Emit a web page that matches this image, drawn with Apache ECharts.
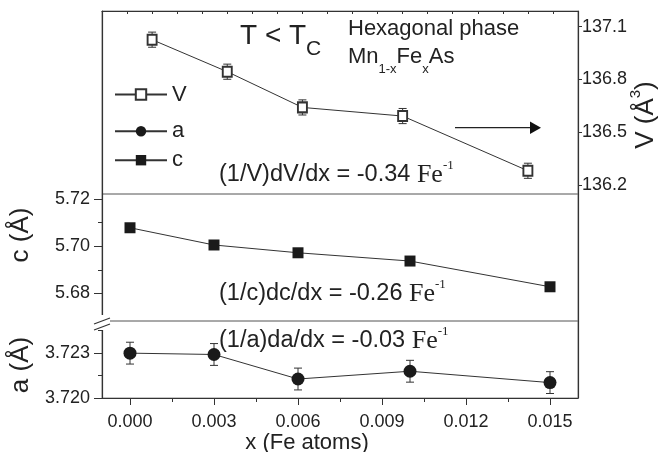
<!DOCTYPE html>
<html>
<head>
<meta charset="utf-8">
<script src="https://cdn.jsdelivr.net/npm/echarts@6/dist/echarts.min.js"></script>
<style>
  html, body { margin: 0; padding: 0; background: #fff; }
  #chart { width: 658px; height: 452px; }
</style>
</head>
<body>
<div id="chart"></div>
<script>
// Fe content of the Mn(1-x)Fe(x)As samples
const xFe = [0, 0.003, 0.006, 0.010, 0.015];

// Unit-cell volume V (Å^3) with its uncertainty
const cellVolume = [137.026, 136.844, 136.641, 136.592, 136.281];
const cellVolumeErr = [0.043, 0.043, 0.043, 0.043, 0.043];

// Lattice parameters (Å)
const latticeC = [5.7078, 5.7005, 5.6972, 5.6937, 5.6828];
const latticeA = [3.72300, 3.72291, 3.72127, 3.72179, 3.72103];
const latticeAErr = [0.00073, 0.00073, 0.00073, 0.00073, 0.00073];

// Tick positions
const xTicks = [0, 0.003, 0.006, 0.009, 0.012, 0.015];
const xMinorTicks = [0.0015, 0.0045, 0.0075, 0.0105, 0.0135];
const vTicks = [136.2, 136.5, 136.8, 137.1];
const cTicks = [5.68, 5.70, 5.72];
const cMinorTicks = [5.69, 5.71];
const aTicks = [3.720, 3.723];
const aMinorTicks = [3.7215, 3.7245];

const DARK = '#333';
const TEXT = '#222';
const SANS = '"Liberation Sans", Arial, Helvetica, sans-serif';
const SERIF = '"Liberation Serif", "Times New Roman", serif';

const chart = echarts.init(document.getElementById('chart'), null, { renderer: 'canvas' });

function errorBar(params, api) {
  const x = api.value(0);
  const lo = api.coord([x, api.value(1)]);
  const hi = api.coord([x, api.value(2)]);
  const w = 4;
  const style = { stroke: DARK, lineWidth: 1 };
  return {
    type: 'group',
    children: [
      { type: 'line', shape: { x1: lo[0], y1: lo[1], x2: hi[0], y2: hi[1] }, style },
      { type: 'line', shape: { x1: lo[0] - w, y1: lo[1], x2: lo[0] + w, y2: lo[1] }, style },
      { type: 'line', shape: { x1: hi[0] - w, y1: hi[1], x2: hi[0] + w, y2: hi[1] }, style }
    ]
  };
}

const lineOnly = (gridIndex, position, min, max) => ({
  gridIndex, type: 'value', position, min, max,
  axisLine: { show: true, onZero: false, lineStyle: { color: DARK, width: 1.2 } },
  axisTick: { show: false }, axisLabel: { show: false }, splitLine: { show: false }
});

const tickAxis = (gridIndex, position, min, max, ticks, len, labelFmt, margin) => ({
  gridIndex, type: 'value', position, min, max,
  axisLine: { show: labelFmt != null, onZero: false, lineStyle: { color: DARK, width: 1.2 } },
  axisTick: { show: true, customValues: ticks, length: len, lineStyle: { color: DARK, width: 1 } },
  axisLabel: labelFmt == null ? { show: false } : {
    show: true, customValues: ticks, formatter: labelFmt, margin,
    fontSize: 18, color: TEXT, fontFamily: SANS
  },
  splitLine: { show: false }
});

const V_MIN = 136.149, V_MAX = 137.189;
const C_MIN = 5.6683, C_MAX = 5.7221;
const A_MIN = 3.720, A_MAX = 3.72515;

const legendBase = {
  left: 114, itemWidth: 52, itemHeight: 13, padding: 0, selectedMode: false,
  textStyle: { fontSize: 22, color: TEXT, fontFamily: SANS }
};

const option = {
  animation: false,
  backgroundColor: '#fff',
  grid: [
    { left: 102, right: 80, top: 11, height: 183, show: true, borderColor: '#8c8c8c', borderWidth: 1 },
    { left: 102, right: 80, top: 194, height: 127, show: true, borderColor: '#8c8c8c', borderWidth: 1 },
    { left: 102, right: 80, top: 321, height: 77, show: true, borderColor: '#8c8c8c', borderWidth: 1 }
  ],
  legend: [
    Object.assign({ data: ['V'], top: 90 - 6.5 }, legendBase),
    Object.assign({ data: ['a'], top: 126.7 - 6.5 }, legendBase),
    Object.assign({ data: ['c'], top: 155.7 - 6.5 }, legendBase)
  ],
  xAxis: [
    {
      gridIndex: 0, type: 'value', position: 'top', min: -0.002, max: 0.017, interval: 0.001,
      axisLine: { show: true, onZero: false, lineStyle: { color: DARK, width: 1.2 } },
      axisTick: { show: true, inside: true, length: 3, lineStyle: { color: DARK } },
      axisLabel: { show: false }, splitLine: { show: false }
    },
    { gridIndex: 1, type: 'value', min: -0.001, max: 0.016, show: false },
    tickAxis(2, 'bottom', -0.001, 0.016, xTicks, 7, v => v.toFixed(3), 15),
    tickAxis(2, 'bottom', -0.001, 0.016, xMinorTicks, 4, null, 0)
  ],
  yAxis: [
    tickAxis(0, 'right', V_MIN, V_MAX, vTicks, 4, v => v.toFixed(1), 4),
    lineOnly(0, 'left', V_MIN, V_MAX),
    tickAxis(1, 'left', C_MIN, C_MAX, cTicks, 8, v => v.toFixed(2), 12),
    tickAxis(1, 'left', C_MIN, C_MAX, cMinorTicks, 4, null, 0),
    lineOnly(1, 'right', C_MIN, C_MAX),
    tickAxis(2, 'left', A_MIN, A_MAX, aTicks, 8, v => v.toFixed(3), 12),
    tickAxis(2, 'left', A_MIN, A_MAX, aMinorTicks, 4, null, 0),
    lineOnly(2, 'right', A_MIN, A_MAX)
  ],
  series: [
    {
      name: 'V err', type: 'custom', xAxisIndex: 0, yAxisIndex: 0, z: 2,
      renderItem: errorBar, encode: { x: 0, y: [1, 2] },
      data: xFe.map((x, i) => [x, cellVolume[i] - cellVolumeErr[i], cellVolume[i] + cellVolumeErr[i]])
    },
    {
      name: 'V', type: 'line', xAxisIndex: 0, yAxisIndex: 0, z: 3,
      data: xFe.map((x, i) => [x, cellVolume[i]]),
      symbol: 'emptyRect', symbolSize: [9, 10],
      lineStyle: { color: DARK, width: 1 },
      itemStyle: { color: DARK, borderColor: DARK, borderWidth: 1.2 }
    },
    {
      name: 'c', type: 'line', xAxisIndex: 1, yAxisIndex: 2, z: 3,
      data: xFe.map((x, i) => [x, latticeC[i]]),
      symbol: 'rect', symbolSize: 11,
      lineStyle: { color: DARK, width: 1 },
      itemStyle: { color: '#1a1a1a' }
    },
    {
      name: 'a err', type: 'custom', xAxisIndex: 2, yAxisIndex: 5, z: 2,
      renderItem: errorBar, encode: { x: 0, y: [1, 2] },
      data: xFe.map((x, i) => [x, latticeA[i] - latticeAErr[i], latticeA[i] + latticeAErr[i]])
    },
    {
      name: 'a', type: 'line', xAxisIndex: 2, yAxisIndex: 5, z: 3,
      data: xFe.map((x, i) => [x, latticeA[i]]),
      symbol: 'circle', symbolSize: 13,
      lineStyle: { color: DARK, width: 1 },
      itemStyle: { color: '#1a1a1a' }
    }
  ],
  graphic: [
    // condition and compound
    {
      type: 'text', x: 240, y: 36, z: 10,
      style: {
        text: '{m|T < T}{s|C}', verticalAlign: 'middle', align: 'left',
        rich: {
          m: { fontSize: 28, lineHeight: 48, fontFamily: SANS, fill: TEXT },
          s: { fontSize: 21, lineHeight: 20.6, verticalAlign: 'bottom', fontFamily: SANS, fill: TEXT }
        }
      }
    },
    {
      type: 'text', x: 348, y: 29, z: 10,
      style: { text: 'Hexagonal phase', font: '22px ' + SANS, fill: TEXT, verticalAlign: 'middle', align: 'left' }
    },
    {
      type: 'text', x: 348, y: 57, z: 10,
      style: {
        text: '{m|Mn}{s|1-x}{m|Fe}{s|x}{m|As}', verticalAlign: 'middle', align: 'left',
        rich: {
          m: { fontSize: 22, lineHeight: 38, fontFamily: SANS, fill: TEXT },
          s: { fontSize: 13, lineHeight: 12, verticalAlign: 'bottom', fontFamily: SANS, fill: TEXT }
        }
      }
    },
    // relative slopes
    ...[
      ['(1/V)dV/dx = -0.34 ', 175],
      ['(1/c)dc/dx = -0.26 ', 294],
      ['(1/a)da/dx = -0.03 ', 341]
    ].map(([t, y]) => ({
      type: 'text', x: 219, y, z: 10,
      style: {
        text: '{m|' + t + '}{f|Fe}{p|-1}', verticalAlign: 'middle', align: 'left',
        rich: {
          m: { fontSize: 23.5, lineHeight: 31, fontFamily: SANS, fill: TEXT },
          f: { fontSize: 26, lineHeight: 31, fontFamily: SERIF, fill: TEXT },
          p: { fontSize: 13, lineHeight: 13, verticalAlign: 'top', fontFamily: SERIF, fill: TEXT }
        }
      }
    })),
    // arrow pointing to the volume axis
    { type: 'line', z: 10, shape: { x1: 455, y1: 127.7, x2: 532, y2: 127.7 }, style: { stroke: '#222', lineWidth: 1.3 } },
    { type: 'polygon', z: 10, shape: { points: [[530, 121.5], [541, 127.7], [530, 134]] }, style: { fill: '#111' } },
    // axis titles
    {
      type: 'text', x: 21, y: 235, rotation: Math.PI / 2, z: 10,
      style: { text: 'c (Å)', font: '26px ' + SANS, fill: TEXT, align: 'center', verticalAlign: 'middle' }
    },
    {
      type: 'text', x: 21, y: 365, rotation: Math.PI / 2, z: 10,
      style: { text: 'a (Å)', font: '26px ' + SANS, fill: TEXT, align: 'center', verticalAlign: 'middle' }
    },
    {
      type: 'text', x: 646, y: 115, rotation: Math.PI / 2, z: 10,
      style: {
        text: '{m|V (Å}{p|3}{m|)}', align: 'center', verticalAlign: 'middle',
        rich: {
          m: { fontSize: 26, lineHeight: 36, fontFamily: SANS, fill: TEXT },
          p: { fontSize: 15, lineHeight: 15, verticalAlign: 'top', fontFamily: SANS, fill: TEXT }
        }
      }
    },
    {
      type: 'text', x: 307, y: 443, z: 10,
      style: { text: 'x (Fe atoms)', font: '22px ' + SANS, fill: TEXT, align: 'center', verticalAlign: 'middle' }
    },
    // break marks on the left axis
    { type: 'rect', z: 20, shape: { x: 96, y: 315, width: 14, height: 15 }, style: { fill: '#fff' } },
    { type: 'line', z: 21, shape: { x1: 94, y1: 324, x2: 110, y2: 318 }, style: { stroke: DARK, lineWidth: 1.2 } },
    { type: 'line', z: 21, shape: { x1: 94, y1: 330, x2: 110, y2: 324 }, style: { stroke: DARK, lineWidth: 1.2 } }
  ]
};

chart.setOption(option);
</script>
</body>
</html>
